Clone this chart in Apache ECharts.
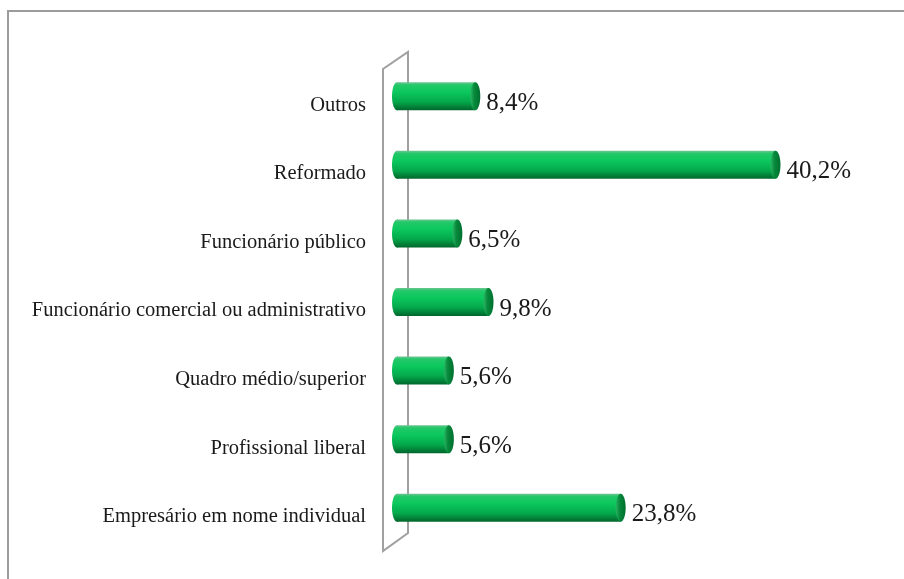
<!DOCTYPE html>
<html>
<head>
<meta charset="utf-8">
<script src="https://cdn.jsdelivr.net/npm/echarts@6/dist/echarts.min.js"></script>
<style>
  html, body { margin: 0; padding: 0; background: #fff; }
  #chart { width: 904px; height: 579px; }
</style>
</head>
<body>
<div id="chart"></div>
<script>
// categories, bottom to top (category axis starts at the bottom)
const categories = [
  'Empresário em nome individual',
  'Profissional liberal',
  'Quadro médio/superior',
  'Funcionário comercial ou administrativo',
  'Funcionário público',
  'Reformado',
  'Outros'
];
const percentages = [23.8, 5.6, 5.6, 9.8, 6.5, 40.2, 8.4];

const SERIF = '"Liberation Serif", "DejaVu Serif", serif';

function fmt(v) {
  return v.toFixed(1).replace('.', ',') + '%';
}

// cylinder-like bar: body + back rounding + end cap + value label
function renderCylinder(params, api) {
  const v = api.value(0);
  const cat = api.value(1);
  const start = api.coord([0, cat]);
  const end = api.coord([v, cat]);
  const h = 28;
  const rx = 5;
  const cy = end[1];
  const x0 = start[0] - 9 + rx;
  const x1 = end[0] - rx;

  const bodyFill = new echarts.graphic.LinearGradient(0, 0, 0, 1, [
    { offset: 0, color: '#6cc592' },
    { offset: 0.1, color: '#22c868' },
    { offset: 0.35, color: '#0bc85d' },
    { offset: 0.7, color: '#04a84b' },
    { offset: 1, color: '#00662c' }
  ]);
  const capFill = new echarts.graphic.LinearGradient(0, 0, 1, 0, [
    { offset: 0, color: '#2cb466' },
    { offset: 0.4, color: '#07893b' },
    { offset: 1, color: '#006f2f' }
  ]);

  return {
    type: 'group',
    children: [
      { type: 'ellipse', shape: { cx: x0, cy: cy, rx: rx, ry: h / 2 }, style: { fill: bodyFill } },
      { type: 'rect', shape: { x: x0, y: cy - h / 2, width: x1 - x0, height: h }, style: { fill: bodyFill } },
      { type: 'ellipse', shape: { cx: x1, cy: cy, rx: rx, ry: h / 2 }, style: { fill: capFill } },
      {
        type: 'text',
        x: end[0] + 6,
        y: cy + 7,
        style: {
          text: fmt(v),
          font: '25px ' + SERIF,
          fill: '#1a1a1a',
          align: 'left',
          verticalAlign: 'middle'
        }
      }
    ]
  };
}

const chart = echarts.init(document.getElementById('chart'));

chart.setOption({
  animation: false,
  backgroundColor: '#fff',
  grid: { left: 401, right: 31, top: 62, bottom: 37 },
  xAxis: {
    type: 'value',
    min: 0,
    max: 50,
    show: false
  },
  yAxis: {
    type: 'category',
    data: categories,
    axisLine: { show: false },
    axisTick: { show: false },
    splitLine: { show: false },
    axisLabel: {
      margin: 35,
      fontFamily: SERIF,
      fontSize: 20.5,
      color: '#1a1a1a',
      verticalAlign: 'top',
      lineHeight: 18
    }
  },
  graphic: [
    // outer frame (only top and left visible)
    {
      type: 'rect',
      z: 0,
      shape: { x: 8, y: 11, width: 1000, height: 1000 },
      style: { fill: 'none', stroke: '#9c9c9c', lineWidth: 2 }
    },
    // 3D wall behind the bars
    {
      type: 'polygon',
      z: 0,
      shape: { points: [[383, 551], [383, 69], [408, 52], [408, 533]] },
      style: { fill: 'none', stroke: '#a0a0a0', lineWidth: 2 }
    }
  ],
  series: [
    {
      type: 'custom',
      z: 5,
      renderItem: renderCylinder,
      encode: { x: 0, y: 1 },
      data: percentages.map((v, i) => [v, i])
    }
  ]
});
</script>
</body>
</html>
